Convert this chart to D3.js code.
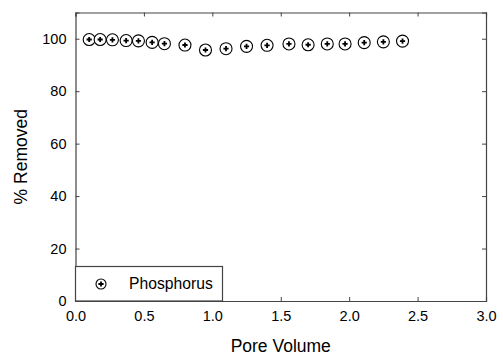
<!DOCTYPE html>
<html>
<head>
<meta charset="utf-8">
<script src="https://cdn.jsdelivr.net/npm/d3@7"></script>
<style>
  body { margin: 0; background: #fff; }
  text { font-family: "Liberation Sans", Arial, sans-serif; fill: #000; }
</style>
</head>
<body>
<svg id="chart" width="503" height="356"></svg>
<script>
// pore volume vs % removed
const poreVolume = [0.10, 0.18, 0.27, 0.37, 0.46, 0.56, 0.65, 0.80, 0.95, 1.10, 1.25, 1.40, 1.56, 1.70, 1.84, 1.97, 2.11, 2.25, 2.39]
const removed = [99.7, 99.7, 99.6, 99.3, 99.2, 98.6, 98.1, 97.6, 95.7, 96.2, 97.1, 97.5, 98.0, 97.7, 98.0, 98.0, 98.5, 98.8, 99.1]
const xTicks = [0, 0.5, 1, 1.5, 2, 2.5, 3]
const yTicks = [0, 20, 40, 60, 80, 100]
const seriesName = 'Phosphorus'

const margin = {left: 75.5, right: 17, top: 12.5, bottom: 55}
const width = 503, height = 356

const svg = d3.select('#chart')

const x = d3.scaleLinear().domain([0, 3]).range([margin.left, width - margin.right])
const y = d3.scaleLinear().domain([0, 110]).range([height - margin.bottom, margin.top])

const frameColor = '#444'

// axes, ticks point inward
const axBottom = svg.append('g')
  .attr('transform', `translate(0,${height - margin.bottom})`)
  .call(d3.axisBottom(x).tickValues(xTicks).tickSize(-4).tickPadding(10).tickFormat(d3.format('.1f')))
const axTop = svg.append('g')
  .attr('transform', `translate(0,${margin.top})`)
  .call(d3.axisTop(x).tickValues(xTicks).tickSize(-4).tickFormat(''))
const axLeft = svg.append('g')
  .attr('transform', `translate(${margin.left},0)`)
  .call(d3.axisLeft(y).tickValues(yTicks).tickSize(-4).tickPadding(9))
const axRight = svg.append('g')
  .attr('transform', `translate(${width - margin.right},0)`)
  .call(d3.axisRight(y).tickValues(yTicks).tickSize(-4).tickFormat(''))

;[axBottom, axTop, axLeft, axRight].forEach(g => {
  g.select('.domain').attr('stroke', frameColor).attr('stroke-width', 1.2)
  g.selectAll('.tick line').attr('stroke', frameColor)
  g.selectAll('.tick text').attr('font-size', 14.5).attr('fill', '#000')
    .style('font-family', '"Liberation Sans", Arial, sans-serif')
})

// axis titles
svg.append('text')
  .attr('x', (x.range()[0] + x.range()[1]) / 2)
  .attr('y', 352)
  .attr('text-anchor', 'middle')
  .attr('font-size', 17.5)
  .text('Pore Volume')

svg.append('text')
  .attr('transform', `translate(27,${(y.range()[0] + y.range()[1]) / 2}) rotate(-90)`)
  .attr('text-anchor', 'middle')
  .attr('font-size', 17.5)
  .text('% Removed')

function marker(r) {
  return g => {
    g.append('circle')
      .attr('r', r)
      .attr('fill', '#fff')
      .attr('stroke', '#000')
      .attr('stroke-width', 1.1)
    g.append('path')
      .attr('d', 'M-2.6,0H2.6M0,-2.6V2.6')
      .attr('stroke', '#000')
      .attr('stroke-width', 1.8)
  }
}

const data = poreVolume.map((v, i) => ({pv: v, pct: removed[i]}))

svg.append('g').attr('class', 'points')
  .selectAll('g')
  .data(data)
  .join('g')
    .attr('transform', d => `translate(${x(d.pv)},${y(d.pct)})`)
    .call(marker(6))

// legend
const legend = svg.append('g').attr('class', 'legend')
legend.append('rect')
  .attr('x', margin.left)
  .attr('y', 266.5)
  .attr('width', 147)
  .attr('height', height - margin.bottom - 266.5)
  .attr('fill', '#fff')
  .attr('stroke', frameColor)
  .attr('stroke-width', 1.2)
legend.append('g')
  .attr('transform', 'translate(101,284)')
  .call(marker(5))
legend.append('text')
  .attr('x', 129)
  .attr('y', 289)
  .attr('font-size', 15.7)
  .text(seriesName)
</script>
</body>
</html>
